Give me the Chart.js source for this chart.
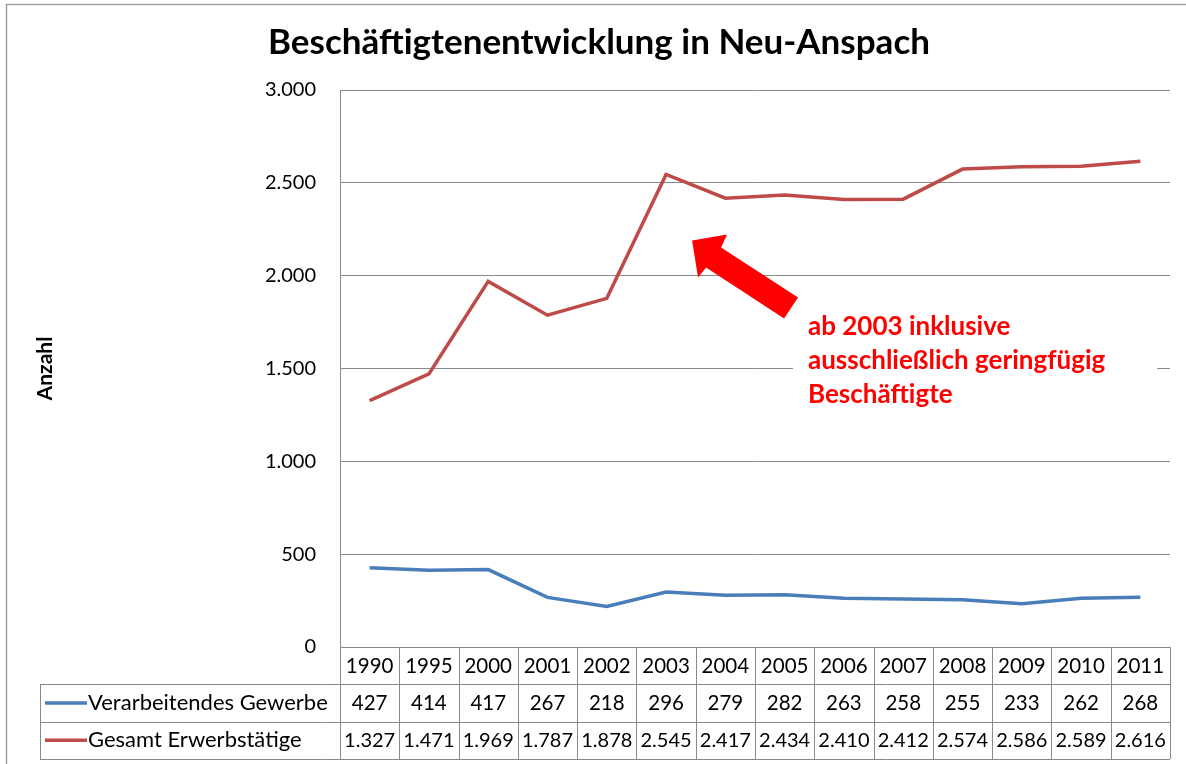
<!DOCTYPE html>
<html>
<head>
<meta charset="utf-8">
<script src="https://cdn.jsdelivr.net/npm/chart.js@4/dist/chart.umd.min.js"></script>
<style>
  html, body { margin: 0; padding: 0; background: #fff; }
  #wrap { width: 1186px; height: 764px; position: relative; }
</style>
</head>
<body>
<div id="wrap"><canvas id="chart_beschaeftigte"></canvas></div>
<script>
// Werte aus der Datentabelle
const years = ['1990', '1995', '2000', '2001', '2002', '2003', '2004', '2005', '2006', '2007', '2008', '2009', '2010', '2011'];
const verarbeitendesGewerbe = [427, 414, 417, 267, 218, 296, 279, 282, 263, 258, 255, 233, 262, 268];
const gesamtErwerbstaetige = [1327, 1471, 1969, 1787, 1878, 2545, 2417, 2434, 2410, 2412, 2574, 2586, 2589, 2616];
const seriesLabels = ['Verarbeitendes Gewerbe', 'Gesamt Erwerbstätige'];
const noteLines = ['ab 2003 inklusive', 'ausschließlich geringfügig', 'Beschäftigte'];

const FONT = 'Lato, "Open Sans", sans-serif';
const GRID = '#8a8a8a';
const BLUE = '#4A7EBB';
const RED = '#BE4B48';

function deNumber(v) {
    return String(Math.round(v)).replace(/\B(?=(\d{3})+(?!\d))/g, '.');
}

Chart.defaults.color = '#000';
Chart.defaults.font.family = FONT;

const frame = {
    id: 'frame',
    beforeDraw(chart) {
        const ctx = chart.ctx;
        ctx.save();
        ctx.strokeStyle = '#a0a0a0';
        ctx.lineWidth = 1.5;
        ctx.strokeRect(6.5, 4.5, 1200, 800);
        ctx.restore();
    }
};

// Hinweis mit Pfeil
const note = {
    id: 'note',
    afterDatasetsDraw(chart) {
        const ctx = chart.ctx;
        const x = chart.scales.x, y = chart.scales.y;
        ctx.save();
        // weisser Hintergrund hinter dem Text
        ctx.fillStyle = '#fff';
        ctx.fillRect(793, 308, 364, 102);

        const tx = x.getPixelForValue(5) + 26;
        const ty = y.getPixelForValue(2190);
        const pts = [[0, 0], [35, -6], [29, 7], [106, 57], [92, 78], [14, 27], [6, 37]];
        ctx.fillStyle = '#ff0000';
        ctx.beginPath();
        pts.forEach((p, i) => i ? ctx.lineTo(tx + p[0], ty + p[1]) : ctx.moveTo(tx + p[0], ty + p[1]));
        ctx.closePath();
        ctx.fill();

        ctx.font = 'bold 26px ' + FONT;
        ctx.textBaseline = 'middle';
        ctx.textAlign = 'left';
        noteLines.forEach((t, i) => ctx.fillText(t, 808, 327 + i * 34));
        ctx.restore();
    }
};

// Datentabelle unter dem Diagramm
const dataTable = {
    id: 'dataTable',
    afterDraw(chart) {
        const ctx = chart.ctx;
        const area = chart.chartArea;
        const x = chart.scales.x;
        const colW = (area.right - area.left) / years.length;
        const rowH = 37.3;
        const top = area.bottom;
        const legendLeft = 40;
        const r1 = top + rowH, r2 = top + 2 * rowH, r3 = top + 3 * rowH;

        ctx.save();
        ctx.strokeStyle = GRID;
        ctx.lineWidth = 1;
        ctx.beginPath();
        [r1, r2, r3].forEach(ry => {
            ctx.moveTo(legendLeft, Math.round(ry) + 0.5);
            ctx.lineTo(area.right, Math.round(ry) + 0.5);
        });
        ctx.moveTo(legendLeft + 0.5, Math.round(r1));
        ctx.lineTo(legendLeft + 0.5, Math.round(r3));
        for (let i = 0; i <= years.length; i++) {
            const cx = Math.round(area.left + i * colW) + 0.5;
            ctx.moveTo(cx, top);
            ctx.lineTo(cx, Math.round(r3));
        }
        ctx.stroke();

        ctx.fillStyle = '#000';
        ctx.textAlign = 'center';
        ctx.textBaseline = 'middle';
        years.forEach((yr, i) => {
            const cx = x.getPixelForValue(i);
            ctx.font = '20.5px ' + FONT;
            ctx.fillText(yr, cx, top + rowH / 2 + 1);
            ctx.fillText(deNumber(verarbeitendesGewerbe[i]), cx, r1 + rowH / 2);
            ctx.font = '20px ' + FONT;
            ctx.fillText(deNumber(gesamtErwerbstaetige[i]), cx, r2 + rowH / 2);
        });

        ctx.textAlign = 'left';
        ctx.font = '22px ' + FONT;
        [[BLUE, r1], [RED, r2]].forEach((s, i) => {
            const my = s[1] + rowH / 2;
            ctx.strokeStyle = s[0];
            ctx.lineWidth = 3.5;
            ctx.beginPath();
            ctx.moveTo(45, my);
            ctx.lineTo(87, my);
            ctx.stroke();
            ctx.fillText(seriesLabels[i], 88, my);
        });
        ctx.restore();
    }
};

new Chart(document.getElementById('chart_beschaeftigte'), {
    type: 'line',
    data: {
        labels: years,
        datasets: [
            { label: seriesLabels[0], data: verarbeitendesGewerbe, borderColor: BLUE, backgroundColor: BLUE, borderWidth: 3.5, pointRadius: 0, tension: 0 },
            { label: seriesLabels[1], data: gesamtErwerbstaetige, borderColor: RED, backgroundColor: RED, borderWidth: 3.5, pointRadius: 0, tension: 0 }
        ]
    },
    options: {
        responsive: true,
        maintainAspectRatio: false,
        animation: false,
        layout: {
            padding: { left: 28, right: 16, top: 0, bottom: 117 }
        },
        scales: {
            x: {
                display: false,
                offset: true
            },
            y: {
                min: 0,
                max: 3000,
                afterFit: function (scale) {
                    scale.width = 312;
                },
                ticks: {
                    stepSize: 500,
                    padding: 24,
                    color: '#000',
                    font: { size: 20, family: FONT },
                    callback: function (value) {
                        return deNumber(value);
                    }
                },
                grid: {
                    color: GRID,
                    drawTicks: false
                },
                border: {
                    display: true,
                    color: GRID
                },
                title: {
                    display: true,
                    text: 'Anzahl',
                    color: '#000',
                    font: { size: 21, weight: 'bold', family: FONT },
                    padding: { top: 5, bottom: 0 }
                }
            }
        },
        plugins: {
            legend: { display: false },
            tooltip: { enabled: false },
            title: {
                display: true,
                text: 'Beschäftigtenentwicklung in Neu-Anspach',
                color: '#000',
                font: { size: 35, weight: 'bold', family: FONT },
                padding: { top: 22, bottom: 26 }
            }
        }
    },
    plugins: [frame, note, dataTable]
});
</script>
</body>
</html>
